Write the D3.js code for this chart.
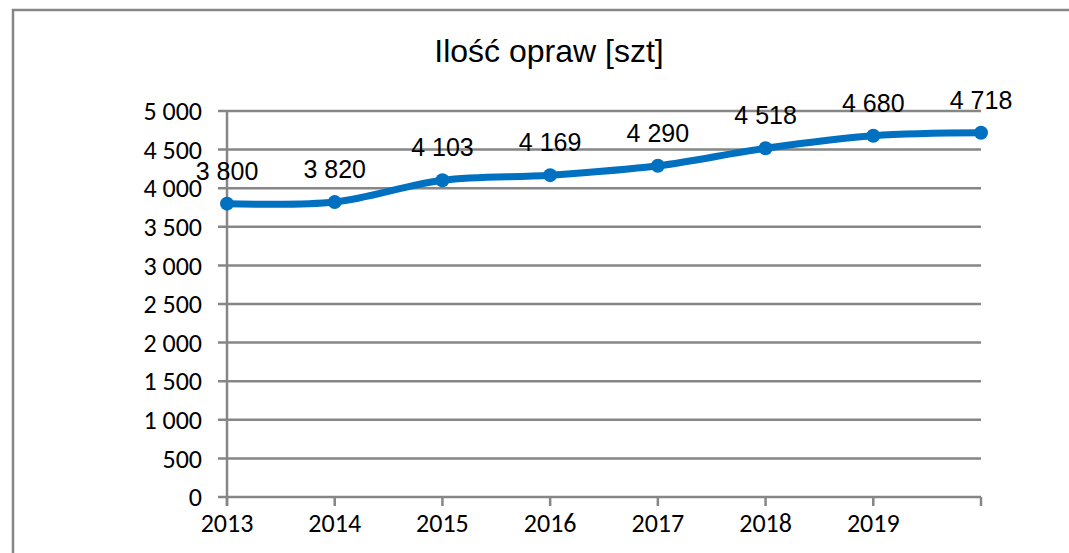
<!DOCTYPE html>
<html><head><meta charset="utf-8">
<script src="https://cdn.jsdelivr.net/npm/d3@7"></script>
<style>html,body{margin:0;padding:0;background:#fff;overflow:hidden}</style>
</head><body>
<svg id="c" width="1069" height="553"></svg>
<script>
const categories = ["2013","2014","2015","2016","2017","2018","2019",""];
const values = [3800, 3820, 4103, 4169, 4290, 4518, 4680, 4718];
const yTicks = [0,500,1000,1500,2000,2500,3000,3500,4000,4500,5000];
const title = "Ilość opraw [szt]";

const svg = d3.select("#c");
const L = 227, R = 981, T = 111, B = 497;
const x = d3.scalePoint().domain(d3.range(categories.length)).range([L, R]);
const y = d3.scaleLinear().domain([0, 5000]).range([B, T]);
const fmt = v => d3.format(",")(v).replace(/,/g, " ");
const grey = "#868686";

svg.append("rect").attr("x",13).attr("y",10).attr("width",1200).attr("height",700)
  .attr("fill","none").attr("stroke",grey).attr("stroke-width",2.5);

svg.append("text").attr("x",549).attr("y",62).attr("text-anchor","middle")
  .attr("font-family","'Liberation Sans', Arial, sans-serif").attr("font-size",32)
  .attr("fill","#000").text(title);

// gridlines
svg.append("g").selectAll("line").data(yTicks).join("line")
  .attr("x1", L-9).attr("x2", R).attr("y1", d=>y(d)).attr("y2", d=>y(d))
  .attr("stroke", grey).attr("stroke-width", 2.5);

// y axis line
svg.append("line").attr("x1",L).attr("x2",L).attr("y1",T).attr("y2",B+9)
  .attr("stroke",grey).attr("stroke-width",2.5);

// x ticks
svg.append("g").selectAll("line").data(d3.range(categories.length)).join("line")
  .attr("x1", d=>x(d)).attr("x2", d=>x(d)).attr("y1", B).attr("y2", B+9)
  .attr("stroke", grey).attr("stroke-width", 2.5);

// y labels
svg.append("g").selectAll("text").data(yTicks).join("text")
  .attr("x", 202).attr("y", d=>y(d)).attr("dy","0.35em").attr("text-anchor","end")
  .attr("font-family","Carlito, Calibri, Lato, sans-serif").attr("font-size",26)
  .attr("fill","#000").text(fmt);

// x labels
svg.append("g").selectAll("text").data(categories).join("text")
  .attr("x", (d,i)=>x(i)).attr("y", 532).attr("text-anchor","middle")
  .attr("font-family","Carlito, Calibri, Lato, sans-serif").attr("font-size",26)
  .attr("fill","#000").text(d=>d);

// line
const line = d3.line().x((d,i)=>x(i)).y(d=>y(d)).curve(d3.curveCardinal.tension(0));
svg.append("path").datum(values).attr("d", line).attr("fill","none")
  .attr("stroke","#0070C0").attr("stroke-width",7).attr("stroke-linejoin","round");

svg.append("g").selectAll("circle").data(values).join("circle")
  .attr("cx",(d,i)=>x(i)).attr("cy",d=>y(d)).attr("r",7).attr("fill","#0070C0");

// data labels
svg.append("g").selectAll("text").data(values).join("text")
  .attr("x",(d,i)=>x(i)).attr("y",d=>y(d)-24).attr("text-anchor","middle")
  .attr("font-family","'Liberation Sans', Arial, sans-serif").attr("font-size",25)
  .attr("fill","#000").text(fmt);
</script>
</body></html>
